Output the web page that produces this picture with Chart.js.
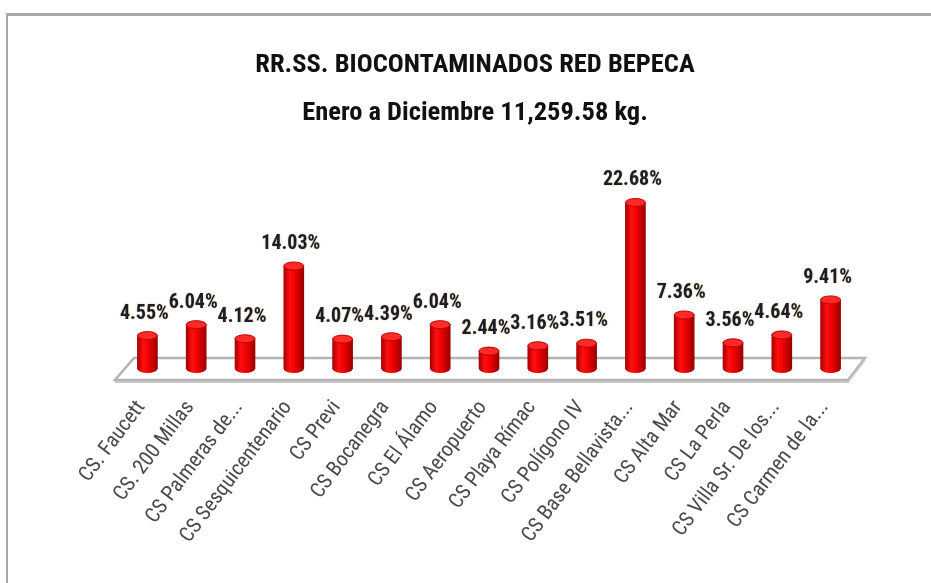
<!DOCTYPE html>
<html>
<head>
<meta charset="utf-8">
<script src="https://cdn.jsdelivr.net/npm/chart.js@4.4.1/dist/chart.umd.min.js"></script>
<style>
  html, body { margin: 0; padding: 0; background: #fff; }
  #wrap { position: relative; width: 931px; height: 583px; overflow: hidden; }
  #frame { position: absolute; left: 6px; top: 13px; width: 940px; height: 600px;
           border-top: 3px solid #a8a8a8; border-left: 2px solid #a8a8a8; }
  canvas { position: absolute; left: 0; top: 0; }
</style>
</head>
<body>
<div id="wrap">
  <div id="frame"></div>
  <canvas id="chart" width="931" height="583"></canvas>
</div>
<script>
const titleLines = ['RR.SS. BIOCONTAMINADOS RED BEPECA', 'Enero a Diciembre 11,259.58 kg.'];
const centros = [
  'CS. Faucett', 'CS. 200 Millas', 'CS Palmeras de...', 'CS Sesquicentenario',
  'CS Previ', 'CS Bocanegra', 'CS El Álamo', 'CS Aeropuerto', 'CS Playa Rímac',
  'CS Polígono IV', 'CS Base Bellavista...', 'CS Alta Mar', 'CS La Perla',
  'CS Villa Sr. De los...', 'CS Carmen de la...'
];
const porcentajes = [4.55, 6.04, 4.12, 14.03, 4.07, 4.39, 6.04, 2.44, 3.16, 3.51, 22.68, 7.36, 3.56, 4.64, 9.41];

const BAR_W = 20;
const FONT = '"Roboto Condensed", "Open Sans", sans-serif';

function redGradient(ctx, x) {
  const g = ctx.createLinearGradient(x - BAR_W / 2, 0, x + BAR_W / 2, 0);
  g.addColorStop(0, '#a80000');
  g.addColorStop(0.3, '#ff1010');
  g.addColorStop(0.55, '#f00000');
  g.addColorStop(1, '#9a0000');
  return g;
}

// gradient for the cylinder body, built from the x scale position
function cylinderFill(c) {
  const xs = c.chart.scales.x;
  if (!xs || c.dataIndex === undefined) return '#e00000';
  const x = xs.getPixelForValue(c.dataIndex);
  if (!isFinite(x)) return '#e00000';
  return redGradient(c.chart.ctx, x);
}

// 3D floor drawn under the bars
const floorPlugin = {
  id: 'floor',
  beforeDatasetsDraw(chart) {
    const ctx = chart.ctx;
    const a = chart.chartArea;
    const y0 = chart.scales.y.getPixelForValue(0);
    ctx.save();
    ctx.beginPath();
    ctx.moveTo(a.left + 11, y0 - 11);
    ctx.lineTo(a.right + 10, y0 - 11);
    ctx.lineTo(a.right - 7, y0 + 11);
    ctx.lineTo(a.left - 8, y0 + 11);
    ctx.closePath();
    ctx.fillStyle = '#ffffff';
    ctx.fill();
    ctx.strokeStyle = '#b4b4b4';
    ctx.lineWidth = 2.5;
    ctx.stroke();
    ctx.beginPath();
    ctx.moveTo(a.left - 8, y0 + 13);
    ctx.lineTo(a.right - 7, y0 + 13);
    ctx.lineTo(a.right + 10, y0 - 9);
    ctx.strokeStyle = '#c8c8c8';
    ctx.lineWidth = 2;
    ctx.stroke();
    ctx.restore();
  }
};

// caps of the cylinders and the percentage labels
const capsPlugin = {
  id: 'caps',
  afterDatasetsDraw(chart) {
    const ctx = chart.ctx;
    const meta = chart.getDatasetMeta(0);
    ctx.save();
    meta.data.forEach((bar, i) => {
      const x = bar.x, y = bar.y, base = bar.base;
      const rx = BAR_W / 2, ry = 4;
      // bottom
      ctx.fillStyle = redGradient(ctx, x);
      ctx.beginPath();
      ctx.ellipse(x, base, rx, ry, 0, 0, Math.PI * 2);
      ctx.fill();
      // top
      ctx.beginPath();
      ctx.ellipse(x, y, rx, ry, 0, 0, Math.PI * 2);
      ctx.fillStyle = '#ff2a2a';
      ctx.fill();
      ctx.strokeStyle = '#c00000';
      ctx.lineWidth = 1;
      ctx.stroke();

      // value label
      ctx.font = 'bold 20px ' + FONT;
      ctx.textAlign = 'center';
      ctx.textBaseline = 'alphabetic';
      ctx.shadowColor = 'rgba(190,170,90,0.7)';
      ctx.shadowBlur = 2;
      ctx.fillStyle = '#1c1c2a';
      ctx.fillText(porcentajes[i].toFixed(2) + '%', x - 3, y - 17);
      ctx.shadowBlur = 0;
      ctx.shadowColor = 'transparent';
    });
    ctx.restore();
  }
};

new Chart(document.getElementById('chart'), {
  type: 'bar',
  data: {
    labels: centros,
    datasets: [{
      data: porcentajes,
      backgroundColor: cylinderFill,
      borderWidth: 0,
      barThickness: BAR_W
    }]
  },
  options: {
    responsive: false,
    animation: false,
    layout: { padding: { left: 95, right: 76, top: 0, bottom: 0 } },
    plugins: {
      legend: { display: false },
      tooltip: { enabled: false },
      title: {
        display: true,
        text: titleLines,
        color: '#111111',
        font: { family: FONT, size: 26.5, weight: 'bold', lineHeight: 1.82 },
        padding: { top: 41, bottom: 48 }
      }
    },
    scales: {
      x: {
        grid: { display: false, drawTicks: false },
        border: { display: false },
        ticks: {
          color: '#4a4a4a',
          font: { family: FONT, size: 21 },
          minRotation: 53,
          maxRotation: 53,
          autoSkip: false,
          labelOffset: -6,
          padding: 27
        },
        afterFit(s) { s.height = 214; }
      },
      y: {
        display: true,
        min: 0,
        max: 25,
        grid: { display: false },
        border: { display: false },
        ticks: { display: false },
        afterFit(s) { s.width = 28; }
      }
    }
  },
  plugins: [floorPlugin, capsPlugin]
});
</script>
</body>
</html>
